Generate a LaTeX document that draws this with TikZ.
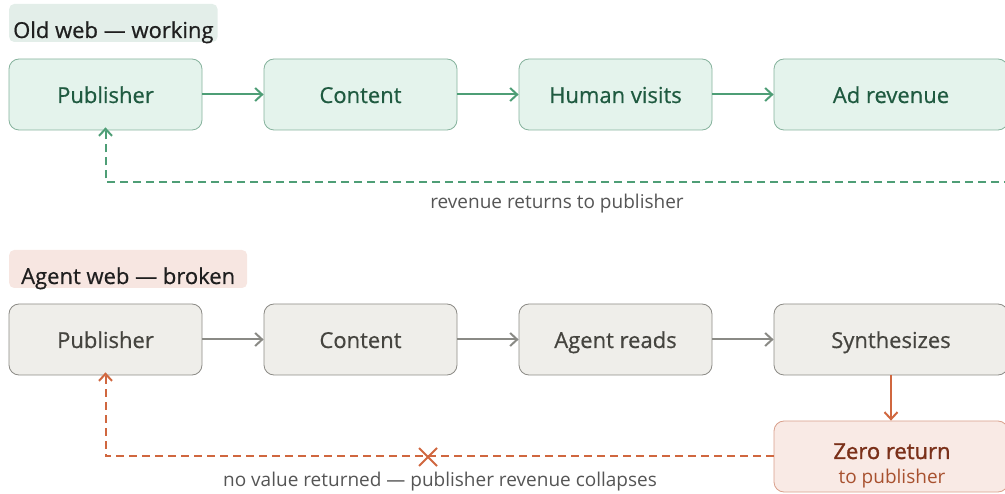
\documentclass[tikz,border=0pt]{standalone}
\usepackage{fontspec}
\setmainfont{Open Sans}
\newfontfamily\medfont{Open Sans}[FakeBold=0.6]
\newfontfamily\strongfont{Open Sans}[FakeBold=1.4]
\usetikzlibrary{arrows.meta, positioning}

\definecolor{oldfill}{HTML}{E4F3EC}
\definecolor{oldline}{HTML}{86B39D}
\definecolor{oldtext}{HTML}{1F5A40}
\definecolor{oldarr}{HTML}{4E9E76}
\definecolor{oldtag}{HTML}{E3EEE9}
\definecolor{agfill}{HTML}{EFEEEA}
\definecolor{agline}{HTML}{8C8B86}
\definecolor{agtext}{HTML}{45443F}
\definecolor{agarr}{HTML}{8A8A85}
\definecolor{agtag}{HTML}{F7E6E1}
\definecolor{lossarr}{HTML}{D0673F}
\definecolor{lossfill}{HTML}{F9EAE5}
\definecolor{lossline}{HTML}{D9A08C}
\definecolor{losstext}{HTML}{7A3019}
\definecolor{losssub}{HTML}{A8512F}
\definecolor{captext}{HTML}{555555}

\tikzset{
  box/.style={rectangle, rounded corners=10pt, minimum width=193pt,
    minimum height=71pt, line width=0.8pt, text height=22pt, text depth=5pt,
    font=\medfont\fontsize{22}{26}\selectfont},
  wide/.style={minimum width=234pt},
  oldbox/.style={box, draw=oldline, fill=oldfill, text=oldtext},
  agbox/.style={box, draw=agline, fill=agfill, text=agtext},
  lossbox/.style={box, wide, draw=lossline, fill=lossfill},
  tag/.style={rectangle, rounded corners=5pt, anchor=west, inner ysep=0pt,
    text height=34pt, text depth=4pt, inner xsep=4pt, text=black!88,
    font=\medfont\fontsize{22}{26}\selectfont},
  tip/.style={-{Straight Barb[length=7pt,width=13pt,line width=2pt]}},
  flow/.style={line width=2pt, tip},
  back/.style={line width=2pt, tip, dash pattern=on 8pt off 5pt},
  caption/.style={text=captext, font=\fontsize{19}{22}\selectfont}
}

\begin{document}
\begin{tikzpicture}[x=1pt, y=-1pt]
    \useasboundingbox (0,0) rectangle (1005,494);
    \clip (0,0) rectangle (1005,494);

        % Old web
        \node[tag, fill=oldtag] (oldtag) at (9,23) {Old web — working};

        \node[oldbox] (pub1) at (105.5,94.5) {Publisher};
        \node[oldbox] (con1) at (360.5,94.5) {Content};
        \node[oldbox] (hum1) at (615.5,94.5) {Human visits};
        \node[oldbox, wide] (ad1) at (891,94.5) {Ad revenue};

        \draw[flow, oldarr] (pub1) -- (con1);
        \draw[flow, oldarr] (con1) -- (hum1);
        \draw[flow, oldarr] (hum1) -- (ad1);

        % revenue loop back
        \coordinate (ret1) at (1012,182);
        \draw[back, oldarr] (ret1) -| ([yshift=3pt]pub1.south);
        \node[caption] (cap1) at (557,204) {revenue returns to publisher};

        % Agent web
        \node[tag, fill=agtag, inner xsep=12pt] (agtag) at (9,269) {Agent web — broken};

        \node[agbox] (pub2) at (105.5,339.5) {Publisher};
        \node[agbox] (con2) at (360.5,339.5) {Content};
        \node[agbox] (read2) at (615.5,339.5) {Agent reads};
        \node[agbox, wide] (syn2) at (891,339.5) {Synthesizes};

        \draw[flow, agarr] (pub2) -- (con2);
        \draw[flow, agarr] (con2) -- (read2);
        \draw[flow, agarr] (read2) -- (syn2);

        \node[lossbox] (zero2) at (891,456.5) {};
        \node[anchor=base, text=losstext, font=\strongfont\fontsize{22}{26}\selectfont]
            (zerotxt) at (892,459) {Zero return};
        \node[anchor=base, text=losssub, font=\fontsize{19}{22}\selectfont]
            (zerosub) at (892,483) {to publisher};
        \draw[flow, lossarr] (syn2) -- (zero2);

        % broken loop back
        \draw[back, lossarr] (zero2.west) -| ([yshift=3pt]pub2.south);
        \coordinate (cut) at (428,457);
        \draw[lossarr, line width=2pt] ([shift={(-9,-9)}]cut) -- ([shift={(9,9)}]cut)
                                      ([shift={(-9,9)}]cut) -- ([shift={(9,-9)}]cut);
        \node[caption] (cap2) at (440,482) {no value returned — publisher revenue collapses};

    \end{tikzpicture}
\end{document}
